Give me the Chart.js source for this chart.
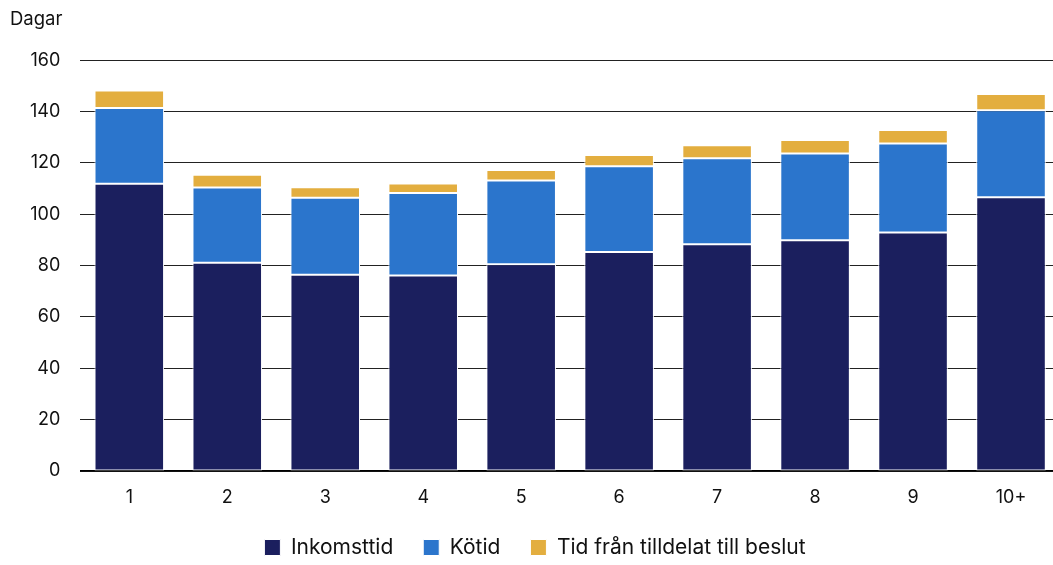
<!DOCTYPE html>
<html>
<head>
<meta charset="utf-8">
<script src="https://cdn.jsdelivr.net/npm/chart.js@4/dist/chart.umd.min.js"></script>
<style>
  html, body { margin: 0; padding: 0; background: #fff; overflow: hidden; }
  #wrap { width: 1060px; height: 565px; }
</style>
</head>
<body>
<div id="wrap"><canvas id="chart"></canvas></div>
<script>
const categories = ['1', '2', '3', '4', '5', '6', '7', '8', '9', '10+'];
const inkomsttid = [111.9, 81.1, 76.4, 76.1, 80.5, 85.3, 88.3, 89.9, 92.9, 106.6];
const kotid = [29.5, 29.3, 30.0, 32.2, 32.6, 33.4, 33.5, 33.8, 34.7, 33.9];
const tidBeslut = [6.8, 5.0, 4.1, 3.7, 4.1, 4.4, 5.1, 5.2, 5.2, 6.3];

const FONT = 'Inter, "Noto Sans", sans-serif';

(function stacked_chart()
{
    const ctx = document.getElementById('chart');
    new Chart(ctx, {
        type: 'bar',
        data: {
            labels: categories,
            datasets: [
                { label: 'Inkomsttid', data: inkomsttid, backgroundColor: '#1b1f5e' },
                { label: 'Kötid', data: kotid, backgroundColor: '#2b75cc' },
                { label: 'Tid från tilldelat till beslut', data: tidBeslut, backgroundColor: '#e3ae3f' }
            ]
        },
        options: {
            responsive: true,
            maintainAspectRatio: false,
            animation: false,
            layout: { padding: { left: 10, right: 0, top: 7, bottom: -3 } },
            datasets: {
                bar: {
                    barPercentage: 1,
                    categoryPercentage: 0.71,
                    borderColor: '#ffffff',
                    borderWidth: 1,
                    borderSkipped: false
                }
            },
            scales: {
                x: {
                    stacked: true,
                    grid: { display: false, drawTicks: false },
                    border: { display: true, color: '#000', width: 1.5 },
                    ticks: { color: '#111', font: { family: FONT, size: 18 }, padding: 16 },
                    afterFit: (scale) => { scale.height = 36; }
                },
                y: {
                    stacked: true,
                    min: 0,
                    max: 160,
                    grid: { color: '#222', lineWidth: 1, drawTicks: false },
                    border: { display: false },
                    ticks: { stepSize: 20, color: '#111', font: { family: FONT, size: 18 }, padding: 20 }
                }
            },
            plugins: {
                title: {
                    display: true,
                    text: 'Dagar',
                    align: 'start',
                    color: '#111',
                    font: { family: FONT, size: 18.5, weight: 'normal' },
                    padding: { top: 1, bottom: 30 }
                },
                legend: {
                    position: 'bottom',
                    labels: {
                        color: '#111',
                        font: { family: FONT, size: 21 },
                        boxWidth: 16,
                        boxHeight: 16,
                        padding: 30
                    }
                },
                tooltip: { enabled: false }
            }
        }
    });
})();
</script>
</body>
</html>
